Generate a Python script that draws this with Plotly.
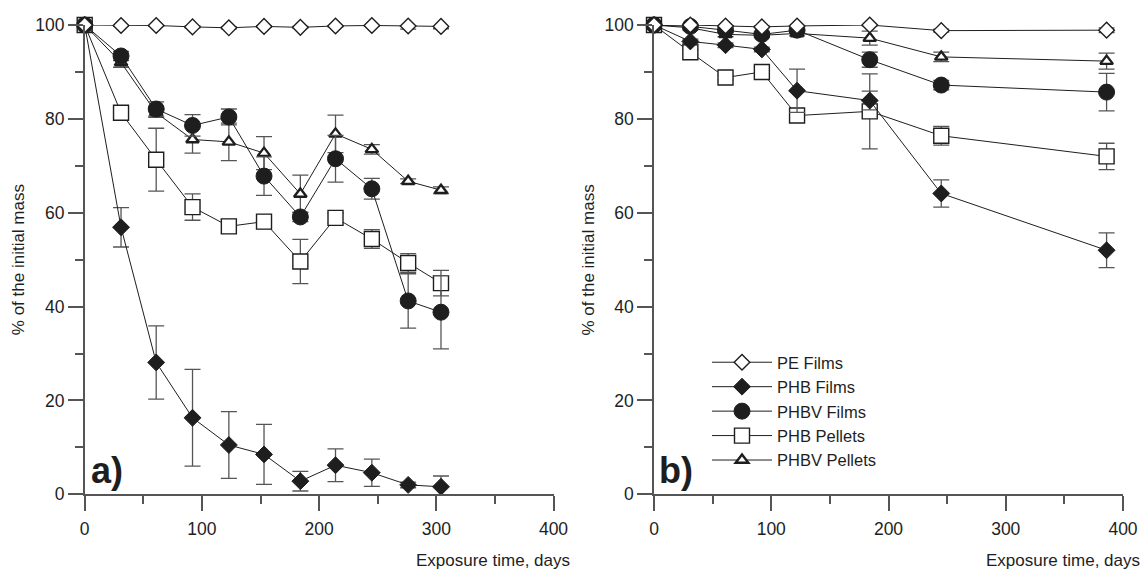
import plotly.graph_objects as go

# ---------------- data ----------------
series_names = ["PE Films", "PHB Films", "PHBV Films", "PHB Pellets", "PHBV Pellets"]

# panel a)
days_a = [0, 31, 61, 92, 123, 153, 184, 214, 245, 276, 304]
pe_films_a = [100, 99.9, 99.9, 99.6, 99.4, 99.7, 99.5, 99.8, 99.9, 99.8, 99.7]
pe_films_a_err = [0, 0.2, 0.2, 0.2, 0.2, 0.2, 0.2, 0.2, 0.2, 0.7, 0.5]
phb_films_a = [100, 56.9, 28.1, 16.3, 10.5, 8.5, 2.8, 6.2, 4.6, 2.0, 1.6]
phb_films_a_err = [0, 4.2, 7.8, 10.3, 7.1, 6.4, 2.1, 3.5, 2.9, 0.6, 2.3]
phbv_films_a = [100, 93.4, 82.1, 78.6, 80.4, 67.8, 59.1, 71.5, 65.1, 41.2, 38.8]
phbv_films_a_err = [0, 1.0, 1.5, 2.3, 1.7, 4.1, 1.0, 5.0, 2.2, 5.8, 7.8]
phb_pellets_a = [100, 81.3, 71.3, 61.2, 57.1, 58.1, 49.6, 58.9, 54.4, 49.3, 45.0]
phb_pellets_a_err = [0, 1.0, 6.7, 2.8, 1.5, 1.5, 4.7, 1.0, 2.0, 2.0, 2.7]
phbv_pellets_a = [100, 92.0, 81.3, 75.6, 75.1, 72.7, 64.0, 76.8, 73.5, 66.7, 64.8]
phbv_pellets_a_err = [0, 1.0, 1.0, 2.9, 4.0, 3.5, 4.0, 4.0, 1.0, 0.5, 0.7]

# panel b)
days_b = [0, 31, 61, 92, 122, 184, 245, 386]
pe_films_b = [100, 100, 99.8, 99.6, 99.8, 100, 98.8, 98.9]
pe_films_b_err = [0, 0.2, 0.2, 0.2, 0.2, 0.2, 0.3, 0.5]
phb_films_b = [100, 96.5, 95.7, 94.8, 86.0, 83.9, 64.1, 52.0]
phb_films_b_err = [0, 0.5, 0.5, 0.5, 4.6, 2.0, 2.9, 3.7]
phbv_films_b = [100, 99.7, 98.9, 98.0, 98.9, 92.6, 87.2, 85.7]
phbv_films_b_err = [0, 0.5, 0.5, 0.5, 0.5, 1.6, 1.0, 4.0]
phb_pellets_b = [100, 94.2, 88.8, 90.0, 80.7, 81.6, 76.4, 72.0]
phb_pellets_b_err = [0, 0.5, 0.5, 1.0, 1.0, 8.0, 2.0, 2.8]
phbv_pellets_b = [100, 99.4, 98.0, 97.8, 98.2, 97.2, 93.2, 92.3]
phbv_pellets_b_err = [0, 0.5, 0.5, 0.5, 0.5, 1.5, 1.0, 1.7]

x_ticks = [0, 100, 200, 300, 400]
y_ticks = [0, 20, 40, 60, 80, 100]
x_title = "Exposure time, days"
y_title = "% of the initial mass"
panel_labels = ["a)", "b)"]

# ---------------- styles ----------------
INK = "#1e1e1e"
AXIS = "#555555"
FONT = "Liberation Sans, Arial, sans-serif"

styles = {
    "PE Films": dict(symbol="diamond", size=12, color="white", lw=1.4),
    "PHB Films": dict(symbol="diamond", size=13, color=INK, lw=1),
    "PHBV Films": dict(symbol="circle", size=16, color=INK, lw=1),
    "PHB Pellets": dict(symbol="square", size=15, color="white", lw=1.4),
    "PHBV Pellets": dict(symbol="triangle-up", size=11, color="white", lw=2.4),
}

panel_a = {
    "PE Films": (pe_films_a, pe_films_a_err),
    "PHB Films": (phb_films_a, phb_films_a_err),
    "PHBV Films": (phbv_films_a, phbv_films_a_err),
    "PHB Pellets": (phb_pellets_a, phb_pellets_a_err),
    "PHBV Pellets": (phbv_pellets_a, phbv_pellets_a_err),
}
panel_b = {
    "PE Films": (pe_films_b, pe_films_b_err),
    "PHB Films": (phb_films_b, phb_films_b_err),
    "PHBV Films": (phbv_films_b, phbv_films_b_err),
    "PHB Pellets": (phb_pellets_b, phb_pellets_b_err),
    "PHBV Pellets": (phbv_pellets_b, phbv_pellets_b_err),
}

fig = go.Figure()

draw_order = ["PHB Pellets", "PHBV Pellets", "PHBV Films", "PHB Films", "PE Films"]


def add_panel(days, panel, xa, ya, show_legend):
    for name in draw_order:
        vals, errs = panel[name]
        st = styles[name]
        fig.add_trace(go.Scatter(
            x=days, y=vals, name=name, legendgroup=name,
            showlegend=show_legend,
            legendrank=series_names.index(name) + 1,
            xaxis=xa, yaxis=ya, mode="lines+markers", cliponaxis=False,
            line=dict(color=INK, width=1),
            marker=dict(symbol=st["symbol"], size=st["size"], color=st["color"],
                        line=dict(color=INK, width=st["lw"])),
            error_y=dict(type="data", array=errs, visible=True,
                         color=AXIS, thickness=1.3, width=8),
        ))


add_panel(days_a, panel_a, "x", "y", False)
add_panel(days_b, panel_b, "x2", "y2", True)

H = 569.0
W = 1148.0
y_dom = [1 - 494.3 / H, 1 - 25.0 / H]

common_x = dict(range=[0, 400], tickvals=x_ticks, showline=True, linecolor=AXIS,
                linewidth=1.5, ticks="outside", ticklen=15, tickwidth=1.5,
                tickcolor=AXIS, showgrid=False, zeroline=False, automargin=False,
                ticklabelstandoff=3,
                tickfont=dict(size=17.5, color=INK, family=FONT),
                minor=dict(dtick=50, ticks="outside", ticklen=8, tickwidth=1.5,
                           tickcolor=AXIS, showgrid=False))
common_y = dict(range=[0, 100], tickvals=y_ticks, showline=True, linecolor=AXIS,
                linewidth=1.5, ticks="outside", ticklen=15, tickwidth=1.5,
                tickcolor=AXIS, showgrid=False, zeroline=False, automargin=False,
                tickfont=dict(size=17.5, color=INK, family=FONT),
                minor=dict(dtick=10, ticks="outside", ticklen=8, tickwidth=1.5,
                           tickcolor=AXIS, showgrid=False))

xa_dom = [84.7 / W, 553.5 / W]
xb_dom = [654.0 / W, 1123.0 / W]

fig.update_layout(
    width=1148, height=569,
    margin=dict(l=0, r=0, t=0, b=0, autoexpand=False),
    paper_bgcolor="white", plot_bgcolor="white",
    font=dict(family=FONT, color=INK, size=17),
    xaxis=dict(domain=xa_dom, anchor="y", **common_x),
    yaxis=dict(domain=y_dom, anchor="x", **common_y),
    xaxis2=dict(domain=xb_dom, anchor="y2", **common_x),
    yaxis2=dict(domain=y_dom, anchor="x2", **common_y),
    legend=dict(x=707 / W, y=1 - 345 / H, xanchor="left", yanchor="top",
                bgcolor="rgba(0,0,0,0)", font=dict(size=16.5, color=INK, family=FONT),
                tracegroupgap=0, itemwidth=60, traceorder="normal"),
    showlegend=True,
)

annotations = []
for dom, lab in zip([xa_dom, xb_dom], panel_labels):
    ax_px = dom[0] * W
    end_px = dom[1] * W
    annotations.append(dict(text=x_title, xref="paper", yref="paper",
                            x=(end_px + 18.5) / W, y=1 - 560 / H,
                            xanchor="right", yanchor="middle", showarrow=False,
                            font=dict(size=17, color=INK, family=FONT)))
    annotations.append(dict(text=y_title, xref="paper", yref="paper",
                            x=(ax_px - 66.5) / W, y=1 - 260 / H, textangle=-90,
                            xanchor="center", yanchor="middle", showarrow=False,
                            font=dict(size=17, color=INK, family=FONT)))
    annotations.append(dict(text="<b>" + lab + "</b>", xref="paper", yref="paper",
                            x=(ax_px + 22) / W, y=1 - 470 / H,
                            xanchor="center", yanchor="middle", showarrow=False,
                            font=dict(size=36, color=INK, family=FONT)))
fig.update_layout(annotations=annotations)

fig.write_html("out.html",
               config={"displayModeBar": False},
               post_script="document.body.style.margin='0';document.body.style.overflow='hidden';")
